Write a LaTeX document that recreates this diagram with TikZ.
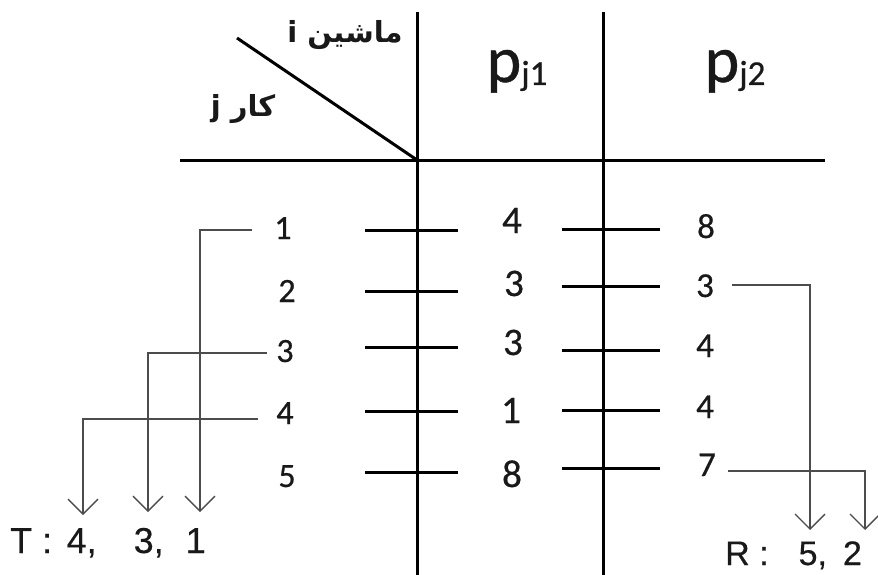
\documentclass[tikz,border=0pt]{standalone}
\usepackage{fontspec}
\setmainfont[FakeBold=0.6]{Carlito}
\newfontfamily\arialfont[FakeBold=0.4]{Liberation Sans}
\newfontfamily\arabicfont[Script=Arabic]{DejaVu Sans}
\TeXXeTstate=1
\usetikzlibrary{arrows.meta}
\begin{document}
\begin{tikzpicture}[x=1pt,y=-1pt,
  mainline/.style={line width=3pt, black},
  tickline/.style={line width=3pt, black},
  conn/.style={line width=1.3pt, draw=black!70},
  arr/.style={conn, -{Straight Barb[length=15pt,width=30pt,line width=1.3pt]}},
  lab/.style={inner sep=0pt, anchor=base, text=black!90},
  jobnum/.style={lab, font=\fontsize{34}{34}\selectfont},
  pone/.style={lab, font=\fontsize{39}{39}\selectfont},
  ptwo/.style={lab, font=\fontsize{35}{35}\selectfont},
  res/.style={lab, anchor=base west, font=\arialfont\fontsize{36}{36}\selectfont},
  head/.style={lab, font=\fontsize{66}{66}\selectfont},
  arab/.style={lab, font=\arabicfont\bfseries\fontsize{29}{29}\selectfont}
]
\useasboundingbox (0,0) rectangle (878,575);

% axes
\coordinate (v1t) at (417,12);  \coordinate (v1b) at (417,575);
\coordinate (v2t) at (603,12);  \coordinate (v2b) at (603,575);
\coordinate (hl) at (180,160);  \coordinate (hr) at (825,160);
\coordinate (dg) at (237,38);   \coordinate (org) at (417,160);
\draw[mainline] (v1t) -- (v1b);
\draw[mainline] (v2t) -- (v2b);
\draw[mainline] (hl) -- (hr);
\draw[mainline] (dg) -- (org);

% headers
\node[arab] (mach) at (345,43) {\beginR ماشين i\endR};
\node[arab] (job) at (243,117) {\beginR کار j\endR};
\node[head] (p1) at (517,82) {p\raisebox{-3pt}{\fontsize{35}{35}\selectfont j1}};
\node[head] (p2) at (735,82) {p\raisebox{-3pt}{\fontsize{35}{35}\selectfont j2}};

% ticks on first line
\foreach \y [count=\i] in {230,291,347,411,472}
  \draw[tickline] (365,\y) coordinate (a\i) -- (458,\y) coordinate (b\i);
% ticks on second line
\foreach \y [count=\i] in {229,286,350,410,468}
  \draw[tickline] (562,\y) coordinate (c\i) -- (660,\y) coordinate (d\i);

% job numbers
\node[jobnum] (j1) at (283,239) {1};
\node[jobnum] (j2) at (287,302) {2};
\node[jobnum] (j3) at (285,362) {3};
\node[jobnum] (j4) at (285,424) {4};
\node[jobnum] (j5) at (287,487) {5};

% p_j1 values
\node[pone] (q1) at (512,233) {4};
\node[pone] (q2) at (514,296) {3};
\node[pone] (q3) at (513,355) {3};
\node[pone] (q4) at (511,423) {1};
\node[pone] (q5) at (512,487) {8};

% p_j2 values
\node[ptwo] (r1) at (706,238) {8};
\node[ptwo] (r2) at (705,297) {3};
\node[ptwo] (r3) at (705,357) {4};
\node[ptwo] (r4) at (705,418) {4};
\node[ptwo] (r5) at (707,476) {7};

% result labels
\node[res] (T) at (10,553) {T :\hspace{14.5pt}4,\hspace{37pt}3,\hspace{22pt}1};
\node[res, font=\arialfont\fontsize{34}{34}\selectfont] (R) at (725,565) {R :\hspace{30pt}5,\hspace{16pt}2};

% connectors, left
\coordinate (s1) at (252,230); \coordinate (k1) at (200,230); \coordinate (e1) at (200,512);
\coordinate (s3) at (267,353); \coordinate (k3) at (148,353); \coordinate (e3) at (148,512);
\coordinate (s4) at (258,419); \coordinate (k4) at (83,419);  \coordinate (e4) at (83,515);
\draw[arr] (s1) -- (k1) -- (e1);
\draw[arr] (s3) -- (k3) -- (e3);
\draw[arr] (s4) -- (k4) -- (e4);

% connectors, right
\coordinate (s2) at (732,285); \coordinate (k2) at (810,285); \coordinate (e2) at (810,530);
\coordinate (s5) at (728,471); \coordinate (k5) at (865,471); \coordinate (e5) at (865,530);
\draw[arr] (s2) -- (k2) -- (e2);
\draw[arr] (s5) -- (k5) -- (e5);
\end{tikzpicture}
\end{document}
